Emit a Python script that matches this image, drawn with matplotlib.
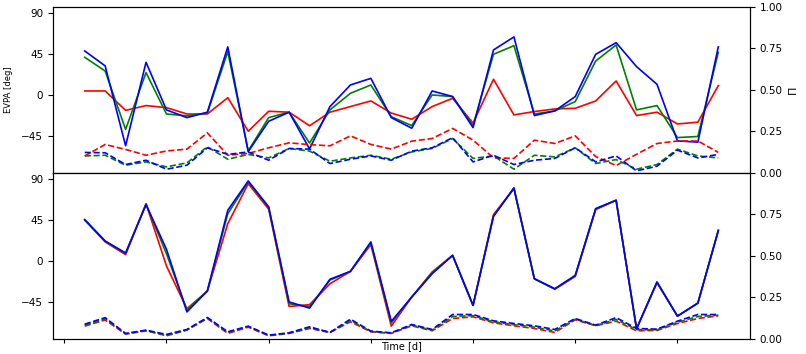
import matplotlib
matplotlib.use("Agg")
import matplotlib.pyplot as plt
import numpy as np

# ── data ───────────────────────────────────────────────────────────────────
days = np.arange(1, 33)

# top panel: EVPA [deg] (solid) and Pi (dashed)
red_evpa_top = [4.4, 4.4, -17, -11.7, -14, -21, -21, -3, -40, -18, -19, -34,
                -19, -12.8, -6.6, -20, -26.8, -12.8, -3.7, -31, 17.3, -22, -18.3,
                -15.4, -14.7, -6.6, 15.4, -22.7, -19, -32, -30, 10.3]
green_evpa_top = [41.5, 26.4, -38, 24.6, -21, -23, -20, 47.7, -61.7, -25, -19, -53,
                  -16.5, 1.8, 11, -24, -33.8, 0, -1.8, -33.8, 44.8, 54.3, -21,
                  -17.6, -7.3, 37.4, 55, -16.5, -11.7, -47, -45.8, 47]
blue_evpa_top = [48.5, 32, -56, 36, -16.5, -25, -19, 53, -62.5, -29, -19, -59.5,
                 -12.8, 11, 18.3, -25, -36.7, 4.4, -1.8, -36, 49.6, 64, -22.7,
                 -17.6, -1.8, 44.8, 57.6, 31.2, 11.7, -50.7, -52, 53]

red_pi_top = [0.100, 0.169, 0.139, 0.104, 0.130, 0.141, 0.239, 0.104, 0.115, 0.149, 0.179, 0.168,
              0.161, 0.221, 0.169, 0.141, 0.189, 0.205, 0.266, 0.195, 0.088, 0.085, 0.195,
              0.175, 0.221, 0.096, 0.042, 0.110, 0.175, 0.190, 0.190, 0.121]
green_pi_top = [0.100, 0.104, 0.044, 0.064, 0.034, 0.058, 0.155, 0.080, 0.109, 0.088, 0.145, 0.129,
                0.068, 0.088, 0.104, 0.080, 0.124, 0.145, 0.205, 0.085, 0.100, 0.020, 0.104,
                0.094, 0.149, 0.054, 0.078, 0.020, 0.048, 0.141, 0.100, 0.088]
blue_pi_top = [0.121, 0.119, 0.048, 0.074, 0.020, 0.044, 0.149, 0.109, 0.124, 0.074, 0.145, 0.141,
               0.054, 0.080, 0.100, 0.074, 0.129, 0.149, 0.210, 0.064, 0.104, 0.048, 0.074,
               0.085, 0.149, 0.064, 0.100, 0.010, 0.038, 0.135, 0.088, 0.109]

# bottom panel
red_evpa_bot = [45, 21, 7, 63, -5.5, -52.5, -33, 41, 85, 57, -50, -48,
                -25, -11.4, 18, -71.6, -39.6, -12, 6.2, -48.8, 51, 79.6, -19.5,
                -31, -17, 56.5, 66.8, -74.5, -24, -60.6, -46.3, 33]
green_evpa_bot = [45.3, 21.6, 8.2, 62.5, 8, -54, -33, 52, 87, 59, -47, -50,
                  -21, -11.4, 20, -68, -39.6, -13, 6.2, -48.8, 49.5, 80, -19.5,
                  -30.7, -16.2, 57.2, 66.8, -74.5, -23.4, -60.6, -46.3, 33.5]
blue_evpa_bot = [45.5, 22, 8.8, 62, 12.9, -56, -33, 55.8, 88, 59.5, -45, -51.8,
                 -20, -11.4, 21, -66.4, -39.6, -14, 6.2, -48.8, 49, 80.4, -19.5,
                 -30.5, -15.8, 57.6, 66.8, -74.5, -23, -60.6, -46.3, 33.8]

red_pi_bot = [0.076, 0.113, 0.028, 0.048, 0.018, 0.052, 0.122, 0.032, 0.070, 0.018, 0.032, 0.062,
              0.038, 0.102, 0.042, 0.032, 0.078, 0.048, 0.122, 0.132, 0.096, 0.078, 0.062,
              0.038, 0.114, 0.078, 0.106, 0.048, 0.050, 0.092, 0.122, 0.138]
green_pi_bot = [0.082, 0.120, 0.030, 0.050, 0.022, 0.054, 0.125, 0.037, 0.073, 0.020, 0.034, 0.067,
                0.038, 0.110, 0.044, 0.034, 0.082, 0.052, 0.134, 0.139, 0.102, 0.085, 0.070,
                0.047, 0.118, 0.080, 0.116, 0.055, 0.054, 0.099, 0.134, 0.142]
blue_pi_bot = [0.088, 0.127, 0.032, 0.052, 0.026, 0.056, 0.128, 0.042, 0.076, 0.022, 0.036, 0.072,
               0.038, 0.118, 0.046, 0.036, 0.086, 0.056, 0.146, 0.146, 0.108, 0.092, 0.078,
               0.056, 0.122, 0.082, 0.127, 0.062, 0.058, 0.106, 0.146, 0.146]

COLORS = ["r", "g", "b"]
LW = 1.2

fig = plt.figure(figsize=(8.06, 3.54), dpi=100)
ax_top = fig.add_axes([0.0658, 0.5127, 0.8647, 0.4684])
ax_bot = fig.add_axes([0.0658, 0.0430, 0.8647, 0.4697], sharex=ax_top)


def draw_panel(ax, evpa, pis, right_ticks):
    for c, y in zip(COLORS, evpa):
        ax.plot(days, y, color=c, lw=LW)
    ax.set_yticks([-45, 0, 45, 90])
    ax.set_yticklabels(["\u221245", "0", "45", "90"])
    ax.set_ylim(-85.5, 97.3)
    ax.tick_params(axis="y", labelsize=7.5)
    axr = ax.twinx()
    for c, y in zip(COLORS, pis):
        axr.plot(days, y, color=c, lw=LW, ls="--")
    axr.set_yticks(right_ticks)
    axr.set_ylim(0, 1)
    axr.tick_params(axis="y", labelsize=7.5)
    return axr


axr_top = draw_panel(ax_top, [red_evpa_top, green_evpa_top, blue_evpa_top],
                     [red_pi_top, green_pi_top, blue_pi_top],
                     [0, 0.25, 0.5, 0.75, 1.0])
axr_bot = draw_panel(ax_bot, [red_evpa_bot, green_evpa_bot, blue_evpa_bot],
                     [red_pi_bot, green_pi_bot, blue_pi_bot],
                     [0, 0.25, 0.5, 0.75])

ax_top.set_ylabel("EVPA [deg]", fontsize=6)
ax_top.yaxis.set_label_coords(-0.058, 0.5)
axr_top.set_ylabel("\u03a0", fontsize=8)
axr_top.yaxis.set_label_coords(1.055, 0.5)

ax_top.tick_params(axis="x", bottom=False, labelbottom=False)
ax_bot.set_xticks([0, 5, 10, 15, 20, 25, 30])
ax_bot.tick_params(axis="x", labelbottom=False, length=3)
ax_bot.set_xlabel("Time [d]", fontsize=7)
ax_bot.xaxis.set_label_coords(0.5, -0.012)

fig.savefig("out.png", dpi=100)
